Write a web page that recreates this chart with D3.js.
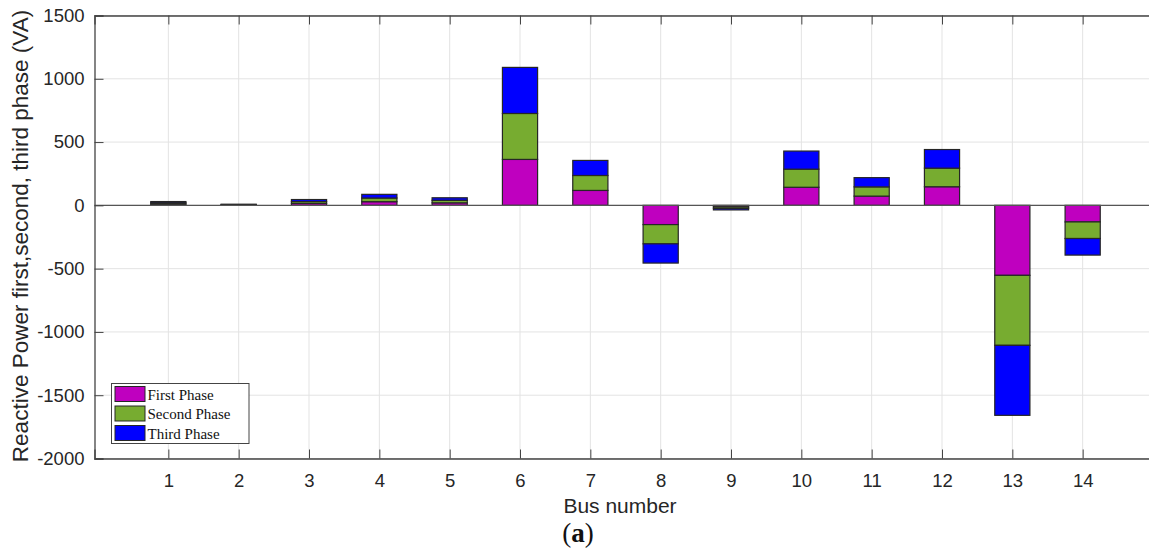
<!DOCTYPE html>
<html>
<head>
<meta charset="utf-8">
<script src="https://cdn.jsdelivr.net/npm/d3@7"></script>
<style>
  html, body { margin: 0; padding: 0; background: #fff; }
  svg { display: block; }
</style>
</head>
<body>
<svg id="chart" width="1149" height="549"></svg>
<script>
// Bus numbers along the x axis
const buses = [1, 2, 3, 4, 5, 6, 7, 8, 9, 10, 11, 12, 13, 14];
// Reactive power per phase (VA) at each bus
const firstPhase  = [10, 3, 15, 29, 20, 363, 118, -152, -12, 143, 73, 147, -553, -131];
const secondPhase = [10, 3, 15, 29, 20, 363, 118, -152, -12, 143, 73, 147, -553, -131];
const thirdPhase  = [10, 3, 16, 29, 20, 364, 119, -152, -12, 143, 73, 147, -553, -131];
const seriesNames = ["First Phase", "Second Phase", "Third Phase"];
const yTicks = [-2000, -1500, -1000, -500, 0, 500, 1000, 1500];

const colors = ["#bf00bf", "#77ac30", "#0000ff"];

const svg = d3.select("#chart");
const plotLeft = 94.5, plotTop = 15.5, plotBottom = 458.5, plotRight = 1153;

const x = d3.scaleLinear().domain([-0.05, 15]).range([plotLeft, plotRight]);
const y = d3.scaleLinear().domain([-2000, 1500]).range([plotBottom, plotTop]);

// grid
const grid = svg.append("g");
grid.selectAll(".gx").data(buses).enter().append("line")
  .attr("x1", d => x(d)).attr("x2", d => x(d))
  .attr("y1", plotTop).attr("y2", plotBottom)
  .attr("stroke", "#e3e3e3").attr("stroke-width", 1);
grid.selectAll(".gy").data(yTicks).enter().append("line")
  .attr("x1", plotLeft).attr("x2", plotRight)
  .attr("y1", d => y(d)).attr("y2", d => y(d))
  .attr("stroke", "#e3e3e3").attr("stroke-width", 1);

// stacked bars: positive values stack upward, negative downward
const series = [firstPhase, secondPhase, thirdPhase];
const barW = x(1.25) - x(0.75);
const bars = svg.append("g");
buses.forEach((b, i) => {
  let pos = 0, neg = 0;
  series.forEach((s, k) => {
    const v = s[i];
    let y0, y1;
    if (v >= 0) { y0 = pos; y1 = pos + v; pos = y1; }
    else { y0 = neg; y1 = neg + v; neg = y1; }
    bars.append("rect")
      .attr("x", x(b) - barW / 2)
      .attr("width", barW)
      .attr("y", y(Math.max(y0, y1)))
      .attr("height", Math.abs(y(y0) - y(y1)))
      .attr("fill", colors[k])
      .attr("stroke", "#262626")
      .attr("stroke-width", 1.2);
  });
});

// zero baseline
svg.append("line")
  .attr("x1", plotLeft).attr("x2", plotRight)
  .attr("y1", y(0)).attr("y2", y(0))
  .attr("stroke", "#555").attr("stroke-width", 1.3);

// axes (inward ticks, boxed)
const textColor = "#262626";
const plain = d => String(d);
const yAxis = d3.axisLeft(y).tickValues(yTicks).tickSize(-9).tickPadding(10).tickFormat(plain);
const gy = svg.append("g").attr("transform", `translate(${plotLeft},0)`).call(yAxis);
const xAxis = d3.axisBottom(x).tickValues(buses).tickSize(-9).tickPadding(12).tickFormat(plain);
const gx = svg.append("g").attr("transform", `translate(0,${plotBottom})`).call(xAxis);
const xTop = d3.axisTop(x).tickValues(buses).tickSize(-9).tickFormat("");
const gxt = svg.append("g").attr("transform", `translate(0,${plotTop})`).call(xTop);
[gy, gx, gxt].forEach(g => {
  g.selectAll("path").attr("stroke", "#444").attr("stroke-width", 1.3);
  g.selectAll("line").attr("stroke", "#444").attr("stroke-width", 1);
  g.selectAll("text").attr("fill", textColor)
    .style("font-family", "Liberation Sans, Arial, sans-serif").style("font-size", "18.5px");
});
gx.selectAll("text").attr("dy", "0.9em");

// axis labels
svg.append("text")
  .attr("transform", `translate(28,${(plotTop + plotBottom) / 2 - 1}) rotate(-90)`)
  .attr("text-anchor", "middle")
  .attr("fill", textColor)
  .style("font-family", "Liberation Sans, Arial, sans-serif").style("font-size", "22.5px")
  .text("Reactive Power first,second, third phase (VA)");

svg.append("text")
  .attr("x", 620).attr("y", 513)
  .attr("text-anchor", "middle")
  .attr("fill", textColor)
  .style("font-family", "Liberation Sans, Arial, sans-serif").style("font-size", "21px")
  .text("Bus number");

const cap = svg.append("text")
  .attr("x", 578).attr("y", 542)
  .attr("text-anchor", "middle")
  .attr("fill", "#111")
  .style("font-family", "Liberation Serif, Times New Roman, serif").style("font-size", "27px");
cap.append("tspan").text("(");
cap.append("tspan").attr("font-weight", "bold").text("a");
cap.append("tspan").text(")");

// legend
const lg = svg.append("g").attr("transform", "translate(111.5,383.5)");
lg.append("rect").attr("width", 137.5).attr("height", 60)
  .attr("fill", "#fff").attr("stroke", "#444").attr("stroke-width", 1);
seriesNames.forEach((n, k) => {
  lg.append("rect")
    .attr("x", 3.5).attr("y", 3 + k * 19.5)
    .attr("width", 30).attr("height", 15)
    .attr("fill", colors[k]).attr("stroke", "#262626").attr("stroke-width", 1);
  lg.append("text")
    .attr("x", 36).attr("y", 16 + k * 19.5)
    .attr("fill", "#111")
    .style("font-family", "Liberation Serif, Times New Roman, serif").style("font-size", "15px")
    .text(n);
});
</script>
</body>
</html>
